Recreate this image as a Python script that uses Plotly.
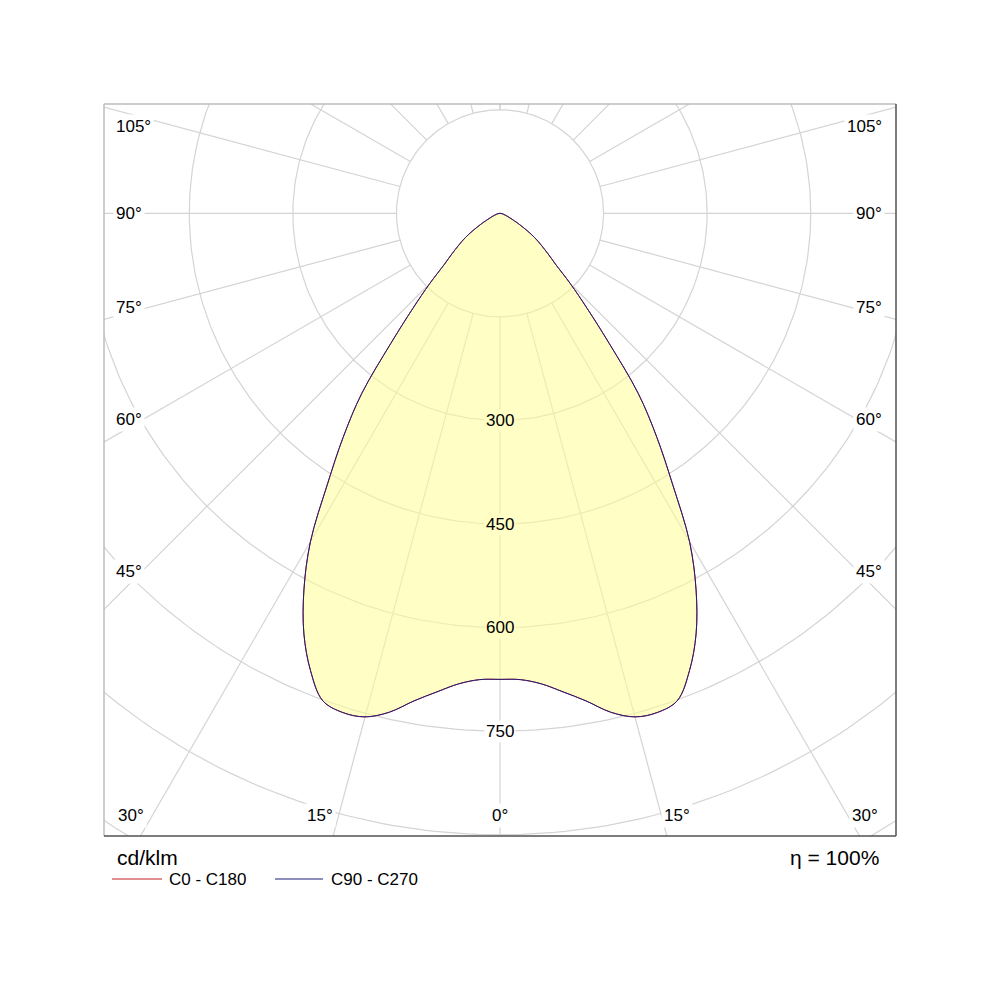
import numpy as np
import plotly.graph_objects as go

# half profile (symmetric), gamma angle from nadir in degrees, cd/klm
GAMMA = [0, 2.5, 5, 7.5, 10, 12.5, 15, 17.5, 20, 22.5, 25, 27.5, 30, 32.5, 35,
         37.5, 40, 42.5, 45, 47.5, 50, 55, 60, 65, 70, 80, 90]
C0_C180 = [675, 676, 684, 699, 717, 740, 755, 758, 751, 717, 672, 615, 549, 465, 396,
           329, 246, 187, 144, 109, 90, 61, 33, 16, 9, 3, 0]
C90_C270 = [675, 676, 684, 699, 717, 740, 755, 758, 751, 717, 672, 615, 549, 465, 396,
            329, 246, 187, 144, 109, 90, 61, 33, 16, 9, 3, 0]

RINGS = [150, 300, 450, 600, 750, 900, 1050]
RING_LABELS = [300, 450, 600, 750]
SPOKES = list(range(-180, 181, 15))
SIDE_LABELS = ["105°", "90°", "75°", "60°", "45°"]
BOTTOM_LABELS = ["30°", "15°", "0°", "15°", "30°"]
SERIES_NAMES = ["C0 - C180", "C90 - C270"]
SERIES_COLORS = ["rgb(200,30,30)", "rgb(30,30,125)"]
UNIT = "cd/klm"
ETA = "η = 100%"

FONT = "Liberation Sans, Arial, sans-serif"
GRID = "#d4d4d4"
FILL = "rgba(255,255,150,0.55)"
FILL_ON_WHITE = "rgb(255,255,197)"

# page body adds an 8px offset; positions below are screen pixels
OFF = 8
L, R, T, B = 104, 896, 104, 836
CY = 213.3
SCALE = (R - L) / 1147.0


def px(x):
    return (x - L) / (R - L)


def py(y):
    return (B - y) / (B - T)


def profile_xy(gamma, values):
    g = np.radians(np.concatenate([-np.array(gamma[::-1]), np.array(gamma[1:])]))
    r = np.concatenate([np.array(values[::-1]), np.array(values[1:])])
    return r * np.sin(g), -r * np.cos(g)


fig = go.Figure()

# grid: rings and spokes
gx, gy = [], []
t = np.linspace(0, 2 * np.pi, 361)
for rr in RINGS:
    gx += list(rr * np.cos(t)) + [None]
    gy += list(rr * np.sin(t)) + [None]
for a in SPOKES:
    ar = np.radians(a)
    gx += [RINGS[0] * np.sin(ar), 1400 * np.sin(ar), None]
    gy += [-RINGS[0] * np.cos(ar), -1400 * np.cos(ar), None]
fig.add_trace(go.Scatter(x=gx, y=gy, mode="lines", line=dict(color=GRID, width=1.2),
                         hoverinfo="skip", showlegend=False))

# filled distribution
fx, fy = profile_xy(GAMMA, C0_C180)
fig.add_trace(go.Scatter(x=fx, y=fy, mode="lines", fill="toself", fillcolor=FILL,
                         line=dict(width=0, shape="spline", smoothing=1.0),
                         hoverinfo="skip", showlegend=False))

for vals, name, col in zip([C0_C180, C90_C270], SERIES_NAMES, SERIES_COLORS):
    x, y = profile_xy(GAMMA, vals)
    fig.add_trace(go.Scatter(x=x, y=y, mode="lines", name=name,
                             line=dict(color=col, width=1, shape="spline", smoothing=1.0),
                             showlegend=False))

ann = []
for v in RING_LABELS:
    bg = FILL_ON_WHITE if v < C0_C180[0] else "white"
    ann.append(dict(x=0, y=-v, xref="x", yref="y", text=str(v), showarrow=False,
                    bgcolor=bg, borderpad=1, font=dict(size=17, color="black", family=FONT)))

side_y = [127, 213, 307, 419, 571]
for lab, yy in zip(SIDE_LABELS, side_y):
    ann.append(dict(x=px(113), y=py(yy), xref="paper", yref="paper", text=lab,
                    xanchor="left", yanchor="middle", showarrow=False, bgcolor="white",
                    borderpad=2, font=dict(size=17, color="black", family=FONT)))
    ann.append(dict(x=px(885), y=py(yy), xref="paper", yref="paper", text=lab,
                    xanchor="right", yanchor="middle", showarrow=False, bgcolor="white",
                    borderpad=2, font=dict(size=17, color="black", family=FONT)))

bottom_x = [131, 320, 500, 677, 865]
for lab, xx in zip(BOTTOM_LABELS, bottom_x):
    ann.append(dict(x=px(xx), y=py(815), xref="paper", yref="paper", text=lab,
                    xanchor="center", yanchor="middle", showarrow=False, bgcolor="white",
                    borderpad=2, font=dict(size=17, color="black", family=FONT)))

ann.append(dict(x=px(115), y=py(857), xref="paper", yref="paper", text=UNIT,
                xanchor="left", yanchor="middle", showarrow=False,
                font=dict(size=21, color="black", family=FONT)))
ann.append(dict(x=px(881), y=py(857), xref="paper", yref="paper", text=ETA,
                xanchor="right", yanchor="middle", showarrow=False,
                font=dict(size=21, color="black", family=FONT)))

# legend drawn by hand
shapes = []
leg_x = [(112, 162, 167), (275, 323, 329)]
for (x0, x1, xt), name, col in zip(leg_x, SERIES_NAMES, SERIES_COLORS):
    shapes.append(dict(type="line", xref="paper", yref="paper", x0=px(x0), x1=px(x1),
                       y0=py(879), y1=py(879), line=dict(color=col, width=1.2)))
    ann.append(dict(x=px(xt), y=py(879), xref="paper", yref="paper", text=name,
                    xanchor="left", yanchor="middle", showarrow=False,
                    font=dict(size=17, color="black", family=FONT)))

# frame
light, dark = "#bcbcbc", "#505050"
shapes += [
    dict(type="line", xref="paper", yref="paper", x0=0, x1=1, y0=1, y1=1, line=dict(color=light, width=1.5)),
    dict(type="line", xref="paper", yref="paper", x0=0, x1=0, y0=0, y1=1, line=dict(color=light, width=1.5)),
    dict(type="line", xref="paper", yref="paper", x0=0, x1=1, y0=0, y1=0, line=dict(color=dark, width=1.5)),
    dict(type="line", xref="paper", yref="paper", x0=1, x1=1, y0=0, y1=1, line=dict(color=dark, width=1.5)),
]

half_w = (R - L) / 2 / SCALE
fig.update_layout(
    width=1000, height=1000,
    margin=dict(l=L - OFF, r=1000 - R + OFF, t=T - OFF, b=1000 - B + OFF),
    paper_bgcolor="white", plot_bgcolor="white",
    xaxis=dict(range=[-half_w, half_w], visible=False, fixedrange=True),
    yaxis=dict(range=[-(B - CY) / SCALE, (CY - T) / SCALE], visible=False, fixedrange=True),
    annotations=ann, shapes=shapes,
    font=dict(family=FONT),
)

fig.write_html("out.html")
